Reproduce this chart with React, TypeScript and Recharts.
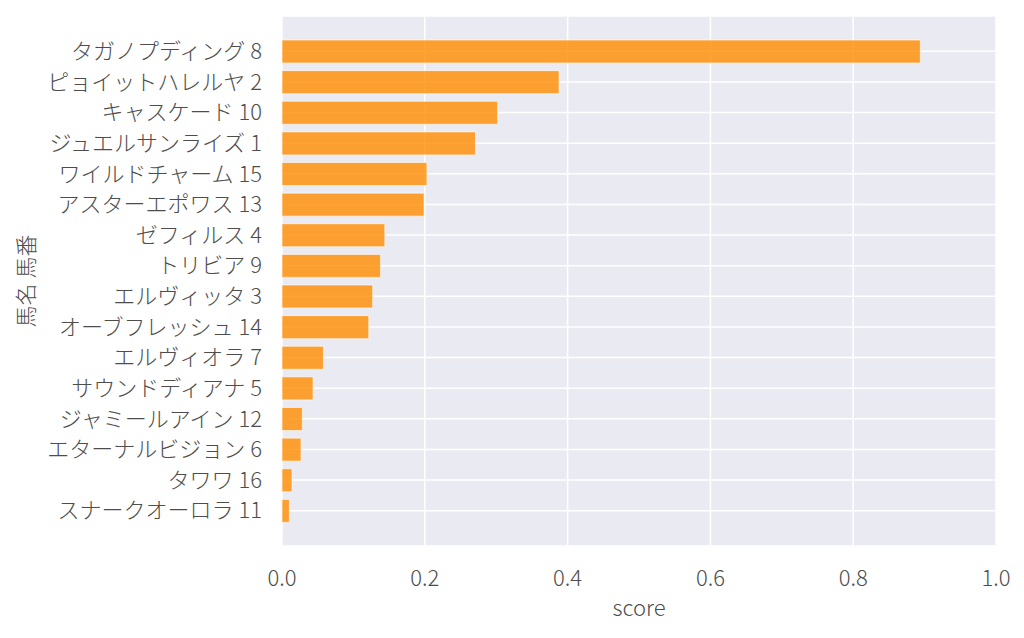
import React from 'react';
import { BarChart, Bar, XAxis, YAxis, CartesianGrid, Label } from 'recharts';

const horses = [
  'タガノプディング 8',
  'ピョイットハレルヤ 2',
  'キャスケード 10',
  'ジュエルサンライズ 1',
  'ワイルドチャーム 15',
  'アスターエポワス 13',
  'ゼフィルス 4',
  'トリビア 9',
  'エルヴィッタ 3',
  'オーブフレッシュ 14',
  'エルヴィオラ 7',
  'サウンドディアナ 5',
  'ジャミールアイン 12',
  'エターナルビジョン 6',
  'タワワ 16',
  'スナークオーロラ 11',
];

const scores = [
  0.894, 0.388, 0.302, 0.271, 0.203, 0.199, 0.144, 0.138,
  0.127, 0.1215, 0.058, 0.0435, 0.0285, 0.0266, 0.014, 0.0103,
];

const xTicks = [0, 0.2, 0.4, 0.6, 0.8, 1.0];

const data = horses.map((name, i) => ({ name, score: scores[i] }));

const FONT = "'Noto Sans CJK JP Light', 'Noto Sans CJK JP', 'Noto Sans', sans-serif";
const TEXT = '#4d4d4d';
const FS = 22;

const YLabel = (props: any) => {
  const vb = props.viewBox || {};
  const cy = vb.y + vb.height / 2;
  const cx = 24;
  return (
    <text
      x={cx}
      y={cy}
      transform={`rotate(-90, ${cx}, ${cy})`}
      textAnchor="middle"
      dominantBaseline="central"
      fill={TEXT}
      fontSize={FS}
      fontWeight={300}
      fontFamily={FONT}
    >
      馬名 馬番
    </text>
  );
};

const XLabel = (props: any) => {
  const vb = props.viewBox || {};
  return (
    <text
      x={vb.x + vb.width / 2}
      y={vb.y + 70}
      textAnchor="middle"
      fill={TEXT}
      fontSize={FS}
      fontWeight={300}
      fontFamily={FONT}
    >
      score
    </text>
  );
};

export default function App() {
  return (
    <div style={{ position: 'absolute', left: 0, top: 0, width: 1024, height: 638, background: '#fff' }}>
      <BarChart
        width={1024}
        height={638}
        data={data}
        layout="vertical"
        margin={{ top: 16, right: 28, bottom: 0, left: 0 }}
        barCategoryGap={0}
      >
        <CartesianGrid stroke="#ffffff" strokeWidth={1.5} fill="#EAEAF2" fillOpacity={1} />
        <XAxis
          type="number"
          dataKey="score"
          domain={[0, 1]}
          ticks={xTicks}
          tickFormatter={(v: number) => v.toFixed(1)}
          axisLine={false}
          tickLine={false}
          tickSize={0}
          tickMargin={24}
          height={92}
          tick={{ fill: TEXT, fontSize: FS, fontWeight: 300, fontFamily: FONT }}
          interval={0}
        >
          <Label content={<XLabel />} />
        </XAxis>
        <YAxis
          type="category"
          dataKey="name"
          width={282}
          axisLine={false}
          tickLine={false}
          tickSize={0}
          tickMargin={20}
          padding={{ top: 20, bottom: 20 }}
          interval={0}
          tick={{ fill: TEXT, fontSize: FS, fontWeight: 300, fontFamily: FONT }}
        >
          <Label content={<YLabel />} />
        </YAxis>
        <Bar
          dataKey="score"
          barSize={23}
          fill="#FF8C00"
          fillOpacity={0.8}
          stroke="#ffffff"
          strokeOpacity={0.6}
          strokeWidth={1}
          isAnimationActive={false}
        />
      </BarChart>
    </div>
  );
}
